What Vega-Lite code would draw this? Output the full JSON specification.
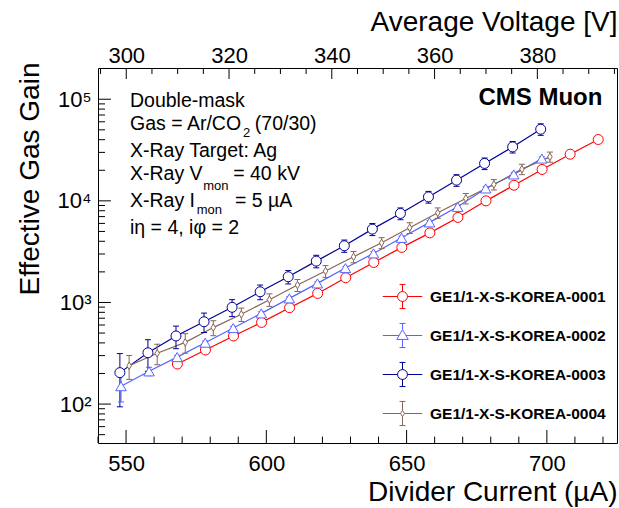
{
  "$schema": "https://vega.github.io/schema/vega-lite/v6.json",
  "width": 519,
  "height": 375,
  "autosize": {"type": "none"},
  "padding": {"left": 98, "top": 68, "right": 2, "bottom": 65},
  "background": "white",
  "config": {
    "view": {"stroke": "black", "strokeWidth": 1},
    "font": "Liberation Sans",
    "axis": {"ticks": false, "tickSize": 0, "domain": false, "labelColor": "black", "titleColor": "black", "grid": false, "labelFont": "Liberation Sans", "titleFont": "Liberation Sans", "titleFontWeight": "normal", "labelFontSize": 22, "titleFontSize": 28, "labelOverlap": false, "labelFlush": false}
  },
  "datasets": {
    "gain": [
      {"s": "GE1/1-X-S-KOREA-0001", "I": 568.3, "G": 248, "lo": 241, "hi": 255},
      {"s": "GE1/1-X-S-KOREA-0001", "I": 578.3, "G": 341, "lo": 331, "hi": 351},
      {"s": "GE1/1-X-S-KOREA-0001", "I": 588.3, "G": 468, "lo": 454, "hi": 482},
      {"s": "GE1/1-X-S-KOREA-0001", "I": 598.3, "G": 637, "lo": 618, "hi": 656},
      {"s": "GE1/1-X-S-KOREA-0001", "I": 608.3, "G": 888, "lo": 861, "hi": 915},
      {"s": "GE1/1-X-S-KOREA-0001", "I": 618.3, "G": 1228, "lo": 1191, "hi": 1265},
      {"s": "GE1/1-X-S-KOREA-0001", "I": 628.3, "G": 1750, "lo": 1698, "hi": 1802},
      {"s": "GE1/1-X-S-KOREA-0001", "I": 638.3, "G": 2477, "lo": 2403, "hi": 2551},
      {"s": "GE1/1-X-S-KOREA-0001", "I": 648.3, "G": 3484, "lo": 3380, "hi": 3588},
      {"s": "GE1/1-X-S-KOREA-0001", "I": 658.3, "G": 4840, "lo": 4695, "hi": 4985},
      {"s": "GE1/1-X-S-KOREA-0001", "I": 668.3, "G": 6870, "lo": 6664, "hi": 7076},
      {"s": "GE1/1-X-S-KOREA-0001", "I": 678.3, "G": 10000, "lo": 9700, "hi": 10300},
      {"s": "GE1/1-X-S-KOREA-0001", "I": 688.3, "G": 14250, "lo": 13823, "hi": 14677},
      {"s": "GE1/1-X-S-KOREA-0001", "I": 698.3, "G": 20370, "lo": 19759, "hi": 20981},
      {"s": "GE1/1-X-S-KOREA-0001", "I": 708.3, "G": 28770, "lo": 27907, "hi": 29633},
      {"s": "GE1/1-X-S-KOREA-0001", "I": 718.3, "G": 40170, "lo": 38965, "hi": 41375},
      {"s": "GE1/1-X-S-KOREA-0002", "I": 548.2, "G": 150, "lo": 105, "hi": 195},
      {"s": "GE1/1-X-S-KOREA-0002", "I": 558.2, "G": 210, "lo": 190, "hi": 230},
      {"s": "GE1/1-X-S-KOREA-0002", "I": 568.2, "G": 290, "lo": 278, "hi": 302},
      {"s": "GE1/1-X-S-KOREA-0002", "I": 578.2, "G": 402, "lo": 386, "hi": 418},
      {"s": "GE1/1-X-S-KOREA-0002", "I": 588.2, "G": 560, "lo": 538, "hi": 582},
      {"s": "GE1/1-X-S-KOREA-0002", "I": 598.2, "G": 781, "lo": 750, "hi": 812},
      {"s": "GE1/1-X-S-KOREA-0002", "I": 608.2, "G": 1097, "lo": 1053, "hi": 1141},
      {"s": "GE1/1-X-S-KOREA-0002", "I": 618.2, "G": 1541, "lo": 1479, "hi": 1603},
      {"s": "GE1/1-X-S-KOREA-0002", "I": 628.2, "G": 2180, "lo": 2093, "hi": 2267},
      {"s": "GE1/1-X-S-KOREA-0002", "I": 638.2, "G": 3040, "lo": 2918, "hi": 3162},
      {"s": "GE1/1-X-S-KOREA-0002", "I": 648.2, "G": 4325, "lo": 4152, "hi": 4498},
      {"s": "GE1/1-X-S-KOREA-0002", "I": 658.2, "G": 6140, "lo": 5894, "hi": 6386},
      {"s": "GE1/1-X-S-KOREA-0002", "I": 668.2, "G": 8730, "lo": 8381, "hi": 9079},
      {"s": "GE1/1-X-S-KOREA-0002", "I": 678.2, "G": 13250, "lo": 12720, "hi": 13780},
      {"s": "GE1/1-X-S-KOREA-0002", "I": 688.2, "G": 18200, "lo": 17472, "hi": 18928},
      {"s": "GE1/1-X-S-KOREA-0002", "I": 698.2, "G": 26100, "lo": 25056, "hi": 27144},
      {"s": "GE1/1-X-S-KOREA-0003", "I": 547.8, "G": 204, "lo": 94, "hi": 314},
      {"s": "GE1/1-X-S-KOREA-0003", "I": 557.8, "G": 320, "lo": 210, "hi": 430},
      {"s": "GE1/1-X-S-KOREA-0003", "I": 567.8, "G": 468, "lo": 351, "hi": 585},
      {"s": "GE1/1-X-S-KOREA-0003", "I": 577.8, "G": 646, "lo": 506, "hi": 786},
      {"s": "GE1/1-X-S-KOREA-0003", "I": 587.8, "G": 896, "lo": 726, "hi": 1066},
      {"s": "GE1/1-X-S-KOREA-0003", "I": 597.8, "G": 1274, "lo": 1064, "hi": 1484},
      {"s": "GE1/1-X-S-KOREA-0003", "I": 607.8, "G": 1791, "lo": 1521, "hi": 2061},
      {"s": "GE1/1-X-S-KOREA-0003", "I": 617.8, "G": 2553, "lo": 2193, "hi": 2913},
      {"s": "GE1/1-X-S-KOREA-0003", "I": 627.8, "G": 3614, "lo": 3114, "hi": 4114},
      {"s": "GE1/1-X-S-KOREA-0003", "I": 637.8, "G": 5270, "lo": 4550, "hi": 5990},
      {"s": "GE1/1-X-S-KOREA-0003", "I": 647.8, "G": 7520, "lo": 6520, "hi": 8520},
      {"s": "GE1/1-X-S-KOREA-0003", "I": 657.8, "G": 10940, "lo": 9490, "hi": 12390},
      {"s": "GE1/1-X-S-KOREA-0003", "I": 667.8, "G": 15990, "lo": 13890, "hi": 18090},
      {"s": "GE1/1-X-S-KOREA-0003", "I": 677.8, "G": 23360, "lo": 20310, "hi": 26410},
      {"s": "GE1/1-X-S-KOREA-0003", "I": 687.8, "G": 33960, "lo": 29560, "hi": 38360},
      {"s": "GE1/1-X-S-KOREA-0003", "I": 697.8, "G": 50700, "lo": 44100, "hi": 57300},
      {"s": "GE1/1-X-S-KOREA-0004", "I": 551.1, "G": 238, "lo": 175, "hi": 301},
      {"s": "GE1/1-X-S-KOREA-0004", "I": 561.1, "G": 316, "lo": 244, "hi": 388},
      {"s": "GE1/1-X-S-KOREA-0004", "I": 571.1, "G": 405, "lo": 317, "hi": 493},
      {"s": "GE1/1-X-S-KOREA-0004", "I": 581.1, "G": 566, "lo": 471, "hi": 661},
      {"s": "GE1/1-X-S-KOREA-0004", "I": 591.1, "G": 765, "lo": 650, "hi": 880},
      {"s": "GE1/1-X-S-KOREA-0004", "I": 601.1, "G": 1065, "lo": 915, "hi": 1215},
      {"s": "GE1/1-X-S-KOREA-0004", "I": 611.1, "G": 1483, "lo": 1283, "hi": 1683},
      {"s": "GE1/1-X-S-KOREA-0004", "I": 621.1, "G": 2037, "lo": 1767, "hi": 2307},
      {"s": "GE1/1-X-S-KOREA-0004", "I": 631.1, "G": 2815, "lo": 2455, "hi": 3175},
      {"s": "GE1/1-X-S-KOREA-0004", "I": 641.1, "G": 3865, "lo": 3385, "hi": 4345},
      {"s": "GE1/1-X-S-KOREA-0004", "I": 651.1, "G": 5432, "lo": 4772, "hi": 6092},
      {"s": "GE1/1-X-S-KOREA-0004", "I": 661.1, "G": 7622, "lo": 6722, "hi": 8522},
      {"s": "GE1/1-X-S-KOREA-0004", "I": 671.1, "G": 10570, "lo": 9320, "hi": 11820},
      {"s": "GE1/1-X-S-KOREA-0004", "I": 681.1, "G": 14490, "lo": 12790, "hi": 16190},
      {"s": "GE1/1-X-S-KOREA-0004", "I": 691.1, "G": 20510, "lo": 18110, "hi": 22910},
      {"s": "GE1/1-X-S-KOREA-0004", "I": 701.1, "G": 27100, "lo": 24000, "hi": 30200}
    ],
    "notes": [
      {"x": 551.4, "y": 84010, "t": "Double-mask"},
      {"x": 551.4, "y": 49570, "t": "Gas = Ar/CO"},
      {"x": 595.9, "y": 49570, "t": "(70/30)"},
      {"x": 551.4, "y": 27080, "t": "X-Ray Target: Ag"},
      {"x": 551.4, "y": 15970, "t": "X-Ray V"},
      {"x": 588.2, "y": 15970, "t": "= 40 kV"},
      {"x": 551.4, "y": 8730, "t": "X-Ray I"},
      {"x": 588.8, "y": 8730, "t": "= 5 µA"},
      {"x": 551.4, "y": 4673, "t": "iη = 4, iφ = 2"}
    ],
    "subs": [
      {"x": 591.7, "y": 42550, "t": "2"},
      {"x": 577.5, "y": 12740, "t": "mon"},
      {"x": 575.2, "y": 7400, "t": "mon"}
    ],
    "brand": [
      {"x": 719.8, "y": 88700, "t": "CMS Muon"}
    ],
    "xmaj": [{"v": 550}, {"v": 600}, {"v": 650}, {"v": 700}],
    "xmin": [{"v": 540}, {"v": 560}, {"v": 570}, {"v": 580}, {"v": 590}, {"v": 610}, {"v": 620}, {"v": 630}, {"v": 640}, {"v": 660}, {"v": 670}, {"v": 680}, {"v": 690}, {"v": 710}, {"v": 720}],
    "ymaj": [{"v": 100}, {"v": 1000}, {"v": 10000}, {"v": 100000}],
    "ymin": [{"v": 50}, {"v": 60}, {"v": 70}, {"v": 80}, {"v": 90}, {"v": 200}, {"v": 300}, {"v": 400}, {"v": 500}, {"v": 600}, {"v": 700}, {"v": 800}, {"v": 900}, {"v": 2000}, {"v": 3000}, {"v": 4000}, {"v": 5000}, {"v": 6000}, {"v": 7000}, {"v": 8000}, {"v": 9000}, {"v": 20000}, {"v": 30000}, {"v": 40000}, {"v": 50000}, {"v": 60000}, {"v": 70000}, {"v": 80000}, {"v": 90000}],
    "vmaj": [{"V": 300}, {"V": 320}, {"V": 340}, {"V": 360}, {"V": 380}],
    "vmin": [{"V": 295}, {"V": 305}, {"V": 310}, {"V": 315}, {"V": 325}, {"V": 330}, {"V": 335}, {"V": 345}, {"V": 350}, {"V": 355}, {"V": 365}, {"V": 370}, {"V": 375}, {"V": 385}, {"V": 390}, {"V": 395}]
  },
  "resolve": {"scale": {"x": "independent"}, "axis": {"x": "independent"}},
  "layer": [
    {
      "layer": [
        {
          "data": {"name": "gain"},
          "mark": {"type": "line", "strokeWidth": 1.2},
          "encoding": {
            "x": {"field": "I", "type": "quantitative",
              "scale": {"domain": [540, 725], "nice": false, "zero": false},
              "axis": {"orient": "bottom", "title": "Divider Current (µA)",
                "values": [550, 600, 650, 700],
                "format": "d",
                "labelPadding": 27,
                "labelBaseline": "alphabetic",
                "labelOverlap": false,
                "titleAnchor": "end", "titleAlign": "right", "titleBaseline": "alphabetic", "titleX": 519, "titleY": 57}},
            "y": {"field": "G", "type": "quantitative",
              "scale": {"type": "log", "domain": [41.4, 203000], "nice": false},
              "axis": {"orient": "left", "title": "Effective Gas Gain",
                "values": [100, 1000, 10000, 100000],
                "labelExpr": "datum.value == 100 ? '10²' : datum.value == 1000 ? '10³' : datum.value == 10000 ? '10⁴' : '10⁵'",
                "labelPadding": 7,
                "labelBaseline": "middle",
                "labelOverlap": false,
                "titleAnchor": "end", "titleAngle": -90, "titleAlign": "right", "titleBaseline": "alphabetic", "titleX": -60, "titleY": -6}},
            "color": {"field": "s", "type": "nominal",
              "scale": {"domain": ["GE1/1-X-S-KOREA-0001", "GE1/1-X-S-KOREA-0002", "GE1/1-X-S-KOREA-0003", "GE1/1-X-S-KOREA-0004"],
                "range": ["#ff0000", "#5566ff", "#000099", "#876657"]}}
          }
        },
        {
          "data": {"name": "xmaj"},
          "mark": {"type": "rule", "color": "black", "strokeWidth": 1},
          "encoding": {
            "x": {"field": "v", "type": "quantitative"},
            "y": {"datum": 41.4, "type": "quantitative"},
            "y2": {"datum": 55.6}
          }
        },
        {
          "data": {"name": "xmin"},
          "mark": {"type": "rule", "color": "black", "strokeWidth": 1},
          "encoding": {
            "x": {"field": "v", "type": "quantitative"},
            "y": {"datum": 41.4, "type": "quantitative"},
            "y2": {"datum": 47.9}
          }
        },
        {
          "data": {"name": "ymaj"},
          "mark": {"type": "rule", "color": "black", "strokeWidth": 1},
          "encoding": {
            "y": {"field": "v", "type": "quantitative"},
            "x": {"datum": 540, "type": "quantitative"},
            "x2": {"datum": 544.6}
          }
        },
        {
          "data": {"name": "ymin"},
          "mark": {"type": "rule", "color": "black", "strokeWidth": 1},
          "encoding": {
            "y": {"field": "v", "type": "quantitative"},
            "x": {"datum": 540, "type": "quantitative"},
            "x2": {"datum": 542.5}
          }
        },
        {
          "data": {"name": "gain"},
          "mark": {"type": "rule", "strokeWidth": 1},
          "encoding": {
            "x": {"field": "I", "type": "quantitative"},
            "y": {"field": "lo", "type": "quantitative"},
            "y2": {"field": "hi"},
            "color": {"field": "s", "type": "nominal"}
          }
        },
        {
          "data": {"name": "gain"},
          "mark": {"type": "rule", "strokeWidth": 1, "xOffset": -3, "x2Offset": 3},
          "encoding": {
            "x": {"field": "I", "type": "quantitative"},
            "x2": {"field": "I"},
            "y": {"field": "lo", "type": "quantitative"},
            "color": {"field": "s", "type": "nominal"}
          }
        },
        {
          "data": {"name": "gain"},
          "mark": {"type": "rule", "strokeWidth": 1, "xOffset": -3, "x2Offset": 3},
          "encoding": {
            "x": {"field": "I", "type": "quantitative"},
            "x2": {"field": "I"},
            "y": {"field": "hi", "type": "quantitative"},
            "color": {"field": "s", "type": "nominal"}
          }
        },
        {
          "data": {"name": "gain"},
          "transform": [{"filter": "datum.s == 'GE1/1-X-S-KOREA-0001' || datum.s == 'GE1/1-X-S-KOREA-0003'"}],
          "mark": {"type": "point", "shape": "circle", "size": 100, "filled": false, "fill": "white", "strokeWidth": 1, "opacity": 1},
          "encoding": {
            "x": {"field": "I", "type": "quantitative"},
            "y": {"field": "G", "type": "quantitative"},
            "color": {"field": "s", "type": "nominal",
              "legend": {"orient": "none", "legendX": 284, "legendY": 208, "title": null, "padding": 0,
                "symbolType": "M-1,0H-0.25M0.25,0H1M0,-0.61V-0.25M0,0.25V0.61M-0.15,-0.61H0.15M-0.15,0.61H0.15M0.25,0A0.25,0.25,0,1,1,-0.25,0A0.25,0.25,0,1,1,0.25,0Z",
                "symbolSize": 1560, "symbolStrokeWidth": 1,
                "labelFont": "Liberation Sans", "labelFontWeight": "bold", "labelFontSize": 15.5, "labelColor": "black",
                "labelOffset": 7, "rowPadding": 4, "labelLimit": 300,
                "encoding": {"symbols": {
                  "shape": {"value": {"expr": "datum.value === 'GE1/1-X-S-KOREA-0002' ? 'M-1,0H-0.17M0.17,0H1M0,-0.61V-0.3M0,0.2V0.61M-0.15,-0.61H0.15M-0.15,0.61H0.15M0,-0.3L0.29,0.2L-0.29,0.2Z' : datum.value === 'GE1/1-X-S-KOREA-0004' ? 'M-1,0H-0.1M0.1,0H1M0,-0.61V-0.16M0,0.16V0.61M-0.15,-0.61H0.15M-0.15,0.61H0.15M0,-0.16L0.1,0L0,0.16L-0.1,0Z' : 'M-1,0H-0.25M0.25,0H1M0,-0.61V-0.25M0,0.25V0.61M-0.15,-0.61H0.15M-0.15,0.61H0.15M0.25,0A0.25,0.25,0,1,1,-0.25,0A0.25,0.25,0,1,1,0.25,0Z'"}},
                  "fill": {"value": "white"},
                  "fillOpacity": {"value": 1}
                }}}}
          }
        },
        {
          "data": {"name": "gain"},
          "transform": [{"filter": "datum.s == 'GE1/1-X-S-KOREA-0002'"}],
          "mark": {"type": "point", "shape": "triangle-up", "size": 110, "filled": false, "fill": "white", "strokeWidth": 1, "opacity": 1},
          "encoding": {
            "x": {"field": "I", "type": "quantitative"},
            "y": {"field": "G", "type": "quantitative"},
            "color": {"field": "s", "type": "nominal"}
          }
        },
        {
          "data": {"name": "gain"},
          "transform": [{"filter": "datum.s == 'GE1/1-X-S-KOREA-0004'"}],
          "mark": {"type": "point", "shape": "M0,-1L0.6,0L0,1L-0.6,0Z", "size": 56, "filled": false, "fill": "white", "strokeWidth": 1, "opacity": 1},
          "encoding": {
            "x": {"field": "I", "type": "quantitative"},
            "y": {"field": "G", "type": "quantitative"},
            "color": {"field": "s", "type": "nominal"}
          }
        },
        {
          "data": {"name": "notes"},
          "mark": {"type": "text", "align": "left", "baseline": "alphabetic", "fontSize": 19.5, "font": "Liberation Sans", "color": "black"},
          "encoding": {
            "x": {"field": "x", "type": "quantitative"},
            "y": {"field": "y", "type": "quantitative"},
            "text": {"field": "t"}
          }
        },
        {
          "data": {"name": "subs"},
          "mark": {"type": "text", "align": "left", "baseline": "alphabetic", "fontSize": 13, "font": "Liberation Sans", "color": "black"},
          "encoding": {
            "x": {"field": "x", "type": "quantitative"},
            "y": {"field": "y", "type": "quantitative"},
            "text": {"field": "t"}
          }
        },
        {
          "data": {"name": "brand"},
          "mark": {"type": "text", "align": "right", "baseline": "alphabetic", "fontSize": 24, "fontWeight": "bold", "font": "Liberation Sans", "color": "black"},
          "encoding": {
            "x": {"field": "x", "type": "quantitative"},
            "y": {"field": "y", "type": "quantitative"},
            "text": {"field": "t"}
          }
        }
      ]
    },
    {
      "layer": [
        {
          "data": {"name": "vmaj"},
          "mark": {"type": "rule", "color": "black", "strokeWidth": 1},
          "encoding": {
            "x": {"field": "V", "type": "quantitative",
              "scale": {"domain": [294.5, 395.5], "nice": false, "zero": false},
              "axis": {"orient": "top", "title": "Average Voltage [V]",
                "values": [300, 320, 340, 360, 380],
                "format": "d",
                "labelPadding": 6,
                "labelBaseline": "alphabetic",
                "labelOverlap": false,
                "titleAnchor": "end", "titleAlign": "right", "titleBaseline": "alphabetic", "titleX": 519, "titleY": -38}},
            "y": {"datum": 203000, "type": "quantitative"},
            "y2": {"datum": 158240}
          }
        },
        {
          "data": {"name": "vmin"},
          "mark": {"type": "rule", "color": "black", "strokeWidth": 1},
          "encoding": {
            "x": {"field": "V", "type": "quantitative"},
            "y": {"datum": 203000, "type": "quantitative"},
            "y2": {"datum": 177200}
          }
        }
      ]
    }
  ]
}
